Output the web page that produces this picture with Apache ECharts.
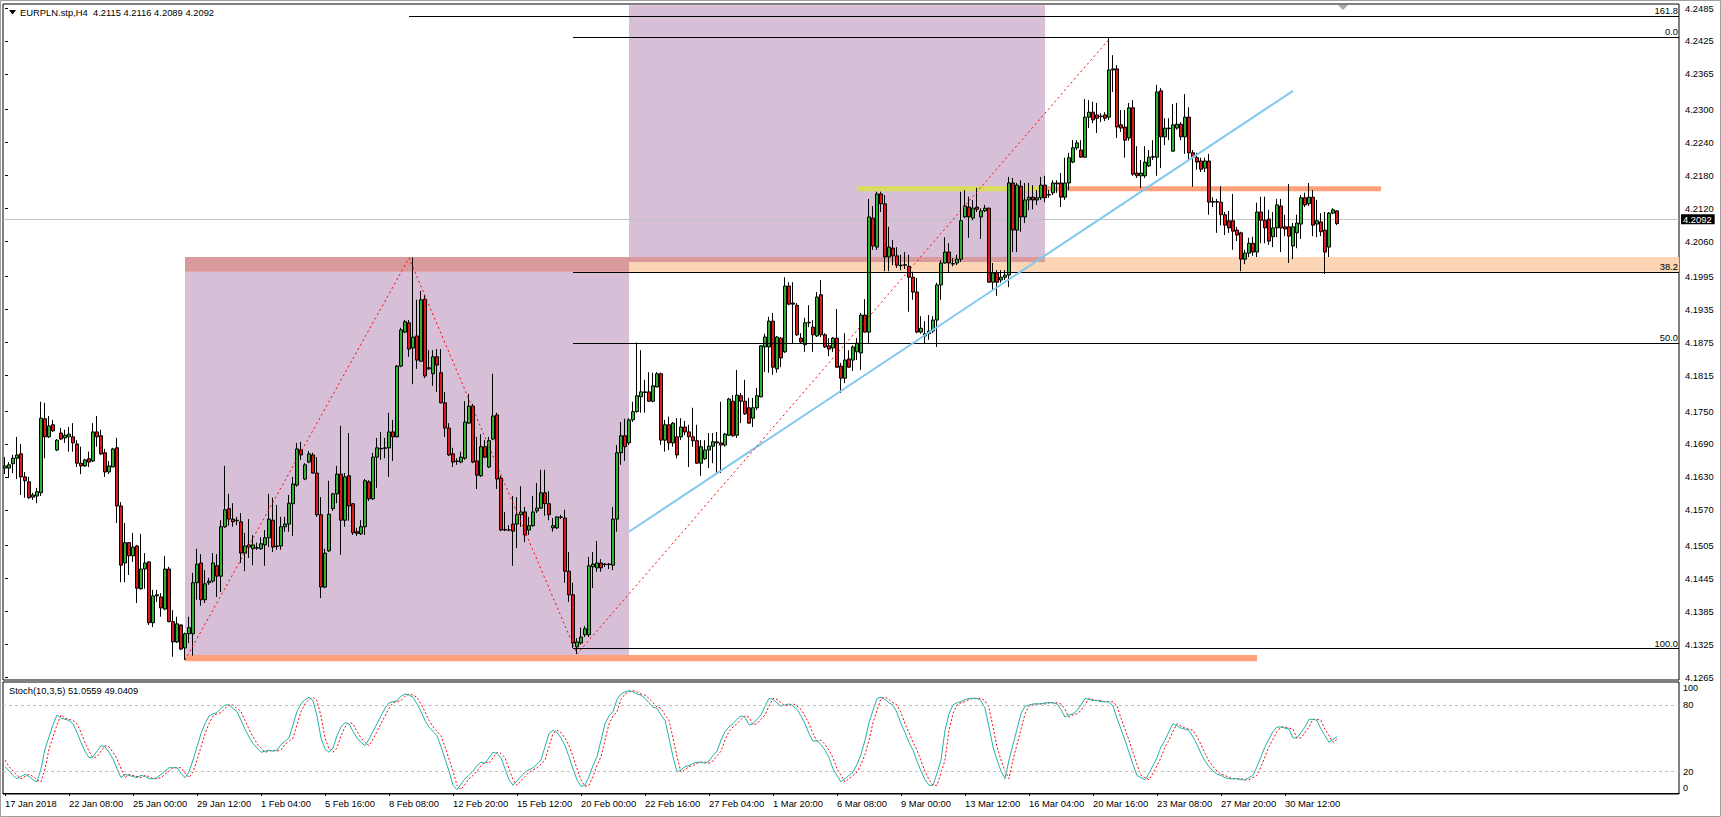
<!DOCTYPE html>
<html><head><meta charset="utf-8">
<script src="https://cdn.jsdelivr.net/npm/echarts@6/dist/echarts.min.js"></script>
<style>html,body{margin:0;padding:0;background:#fff;}#chart{width:1721px;height:817px;}</style>
</head><body><div id="chart"></div>
<script>
const symbolName = 'EURPLN.stp';
const timeframe = 'H4';
// each candle: [open, close, low, high]
const ohlc = [
[4.1646,4.1650,4.1635,4.1666],[4.1646,4.1652,4.1628,4.1657],[4.1654,4.1664,4.1637,4.1670],[4.1664,4.1670,4.1626,4.1703],[4.1672,4.1630,4.1597,4.1690],
[4.1630,4.1623,4.1592,4.1639],[4.1621,4.1592,4.1590,4.1630],[4.1593,4.1597,4.1588,4.1601],[4.1595,4.1603,4.1582,4.1610],[4.1601,4.1737,4.1595,4.1767],
[4.1736,4.1703,4.1664,4.1765],[4.1703,4.1723,4.1701,4.1741],[4.1725,4.1714,4.1712,4.1734],[4.1679,4.1697,4.1677,4.1699],[4.1710,4.1699,4.1697,4.1719],
[4.1701,4.1706,4.1692,4.1716],[4.1703,4.1708,4.1676,4.1721],[4.1703,4.1692,4.1676,4.1728],[4.1690,4.1655,4.1648,4.1697],[4.1655,4.1650,4.1635,4.1685],
[4.1650,4.1661,4.1648,4.1663],[4.1663,4.1657,4.1648,4.1676],[4.1659,4.1712,4.1657,4.1728],[4.1712,4.1703,4.1685,4.1741],[4.1705,4.1672,4.1670,4.1716],
[4.1674,4.1639,4.1630,4.1681],[4.1639,4.1650,4.1635,4.1659],[4.1648,4.1681,4.1648,4.1683],[4.1683,4.1577,4.1546,4.1701],[4.1577,4.1469,4.1438,4.1584],
[4.1473,4.1510,4.1438,4.1546],[4.1510,4.1486,4.1451,4.1511],[4.1486,4.1502,4.1475,4.1528],[4.1504,4.1427,4.1400,4.1506],[4.1426,4.1462,4.1424,4.1526],
[4.1462,4.1473,4.1426,4.1491],[4.1475,4.1364,4.1360,4.1476],[4.1364,4.1413,4.1356,4.1424],[4.1413,4.1415,4.1402,4.1424],[4.1411,4.1391,4.1375,4.1418],
[4.1389,4.1462,4.1387,4.1486],[4.1462,4.1366,4.1365,4.1466],[4.1366,4.1329,4.1302,4.1387],[4.1329,4.1362,4.1327,4.1375],[4.1360,4.1316,4.1314,4.1361],
[4.1318,4.1344,4.1296,4.1346],[4.1344,4.1355,4.1327,4.1375],[4.1344,4.1437,4.1304,4.1455],[4.1437,4.1471,4.1406,4.1499],[4.1473,4.1406,4.1395,4.1489],
[4.1406,4.1435,4.1400,4.1460],[4.1437,4.1440,4.1433,4.1446],[4.1440,4.1473,4.1437,4.1491],[4.1468,4.1449,4.1411,4.1489],[4.1449,4.1539,4.1420,4.1551],
[4.1539,4.1570,4.1537,4.1650],[4.1572,4.1553,4.1541,4.1599],[4.1553,4.1548,4.1539,4.1582],[4.1551,4.1550,4.1542,4.1557],[4.1548,4.1491,4.1473,4.1564],
[4.1491,4.1504,4.1458,4.1528],[4.1502,4.1506,4.1482,4.1553],[4.1499,4.1506,4.1469,4.1524],[4.1500,4.1501,4.1497,4.1510],[4.1499,4.1508,4.1497,4.1520],
[4.1506,4.1519,4.1468,4.1533],[4.1519,4.1553,4.1502,4.1599],[4.1551,4.1502,4.1493,4.1592],[4.1504,4.1503,4.1497,4.1579],[4.1504,4.1539,4.1497,4.1557],
[4.1539,4.1544,4.1530,4.1557],[4.1544,4.1582,4.1530,4.1597],[4.1581,4.1617,4.1522,4.1630],[4.1615,4.1681,4.1612,4.1692],[4.1679,4.1670,4.1661,4.1694],
[4.1626,4.1652,4.1624,4.1655],[4.1657,4.1672,4.1655,4.1677],[4.1670,4.1637,4.1636,4.1674],[4.1637,4.1561,4.1557,4.1666],[4.1561,4.1429,4.1409,4.1593],
[4.1429,4.1491,4.1427,4.1499],[4.1495,4.1562,4.1493,4.1623],[4.1572,4.1599,4.1568,4.1601],[4.1599,4.1635,4.1582,4.1650],[4.1635,4.1551,4.1488,4.1723],
[4.1551,4.1630,4.1539,4.1637],[4.1632,4.1577,4.1550,4.1710],[4.1581,4.1528,4.1524,4.1582],[4.1530,4.1527,4.1522,4.1537],[4.1526,4.1539,4.1524,4.1551],
[4.1539,4.1623,4.1524,4.1626],[4.1621,4.1590,4.1586,4.1624],[4.1590,4.1666,4.1588,4.1674],[4.1666,4.1683,4.1610,4.1701],[4.1681,4.1682,4.1661,4.1712],
[4.1682,4.1683,4.1664,4.1701],[4.1683,4.1712,4.1630,4.1747],[4.1712,4.1703,4.1659,4.1734],[4.1703,4.1832,4.1702,4.1834],[4.1832,4.1898,4.1830,4.1902],
[4.1894,4.1913,4.1892,4.1916],[4.1911,4.1863,4.1849,4.1916],[4.1865,4.1885,4.1799,4.2030],[4.1887,4.1843,4.1827,4.1953],[4.1841,4.1953,4.1840,4.1969],
[4.1954,4.1814,4.1810,4.1962],[4.1829,4.1827,4.1825,4.1861],[4.1818,4.1849,4.1796,4.1861],[4.1849,4.1834,4.1785,4.1863],[4.1820,4.1765,4.1764,4.1863],
[4.1765,4.1719,4.1703,4.1785],[4.1719,4.1670,4.1668,4.1728],[4.1672,4.1657,4.1648,4.1683],[4.1659,4.1658,4.1652,4.1664],[4.1657,4.1666,4.1655,4.1676],
[4.1664,4.1730,4.1661,4.1768],[4.1728,4.1759,4.1727,4.1781],[4.1759,4.1657,4.1655,4.1763],[4.1659,4.1633,4.1608,4.1703],[4.1632,4.1685,4.1630,4.1708],
[4.1685,4.1666,4.1664,4.1697],[4.1648,4.1696,4.1646,4.1703],[4.1699,4.1741,4.1697,4.1818],[4.1743,4.1626,4.1608,4.1747],[4.1628,4.1533,4.1531,4.1632],
[4.1533,4.1534,4.1531,4.1566],[4.1533,4.1533,4.1531,4.1542],[4.1544,4.1531,4.1468,4.1595],[4.1544,4.1561,4.1500,4.1593],[4.1561,4.1566,4.1539,4.1613],
[4.1566,4.1524,4.1511,4.1575],[4.1533,4.1541,4.1524,4.1557],[4.1541,4.1566,4.1539,4.1595],[4.1568,4.1573,4.1564,4.1619],[4.1573,4.1601,4.1572,4.1643],
[4.1601,4.1581,4.1559,4.1643],[4.1581,4.1561,4.1551,4.1604],[4.1537,4.1541,4.1530,4.1555],[4.1537,4.1557,4.1535,4.1558],[4.1557,4.1556,4.1553,4.1561],
[4.1555,4.1458,4.1437,4.1570],[4.1458,4.1415,4.1402,4.1493],[4.1415,4.1327,4.1318,4.1437],[4.1320,4.1329,4.1307,4.1336],[4.1327,4.1338,4.1324,4.1355],
[4.1342,4.1353,4.1338,4.1358],[4.1342,4.1468,4.1338,4.1484],[4.1466,4.1471,4.1427,4.1493],[4.1464,4.1473,4.1457,4.1513],[4.1473,4.1464,4.1457,4.1480],
[4.1471,4.1470,4.1466,4.1473],[4.1470,4.1471,4.1462,4.1473],[4.1469,4.1553,4.1460,4.1575],[4.1553,4.1674,4.1530,4.1688],[4.1674,4.1705,4.1652,4.1730],
[4.1705,4.1685,4.1659,4.1736],[4.1692,4.1734,4.1688,4.1737],[4.1734,4.1749,4.1730,4.1767],[4.1749,4.1778,4.1747,4.1875],[4.1776,4.1785,4.1747,4.1861],
[4.1785,4.1784,4.1747,4.1807],[4.1785,4.1768,4.1767,4.1821],[4.1768,4.1796,4.1766,4.1820],[4.1794,4.1818,4.1793,4.1821],[4.1818,4.1697,4.1688,4.1820],
[4.1697,4.1725,4.1676,4.1734],[4.1725,4.1692,4.1679,4.1740],[4.1692,4.1728,4.1685,4.1730],[4.1703,4.1670,4.1664,4.1737],[4.1703,4.1721,4.1697,4.1737],
[4.1721,4.1712,4.1706,4.1732],[4.1712,4.1703,4.1648,4.1725],[4.1703,4.1696,4.1685,4.1756],[4.1696,4.1655,4.1654,4.1725],[4.1655,4.1685,4.1632,4.1697],
[4.1663,4.1679,4.1661,4.1697],[4.1679,4.1686,4.1646,4.1710],[4.1686,4.1694,4.1655,4.1710],[4.1694,4.1692,4.1637,4.1712],[4.1692,4.1688,4.1637,4.1767],
[4.1688,4.1708,4.1685,4.1710],[4.1706,4.1772,4.1705,4.1774],[4.1768,4.1705,4.1703,4.1779],[4.1706,4.1779,4.1701,4.1825],[4.1778,4.1768,4.1728,4.1783],
[4.1768,4.1745,4.1743,4.1807],[4.1756,4.1728,4.1727,4.1774],[4.1737,4.1756,4.1721,4.1774],[4.1756,4.1778,4.1752,4.1792],[4.1776,4.1869,4.1775,4.1870],
[4.1867,4.1885,4.1821,4.1891],[4.1867,4.1914,4.1820,4.1922],[4.1914,4.1830,4.1816,4.1929],[4.1827,4.1885,4.1820,4.1887],[4.1883,4.1847,4.1830,4.1885],
[4.1858,4.1978,4.1856,4.1994],[4.1978,4.1945,4.1943,4.1985],[4.1947,4.1945,4.1874,4.1985],[4.1943,4.1889,4.1887,4.1947],[4.1883,4.1876,4.1874,4.1892],
[4.1871,4.1911,4.1858,4.1920],[4.1911,4.1912,4.1903,4.1943],[4.1903,4.1889,4.1858,4.1916],[4.1887,4.1958,4.1885,4.1967],[4.1962,4.1889,4.1885,4.1989],
[4.1889,4.1867,4.1865,4.1892],[4.1869,4.1863,4.1850,4.1883],[4.1865,4.1883,4.1858,4.1885],[4.1883,4.1830,4.1829,4.1936],[4.1832,4.1810,4.1783,4.1838],
[4.1810,4.1843,4.1801,4.1892],[4.1845,4.1830,4.1829,4.1861],[4.1843,4.1867,4.1823,4.1870],[4.1858,4.1874,4.1843,4.1883],[4.1856,4.1925,4.1825,4.1929],
[4.1925,4.1894,4.1893,4.1954],[4.1894,4.2104,4.1874,4.2137],[4.2102,4.2051,4.2044,4.2124],[4.2049,4.2146,4.2044,4.2150],[4.2146,4.2128,4.2113,4.2150],
[4.2128,4.2031,4.2005,4.2144],[4.2031,4.2049,4.2005,4.2086],[4.2047,4.2033,4.2016,4.2062],[4.2033,4.2016,4.2011,4.2049],[4.2016,4.2015,4.2007,4.2035],
[4.2016,4.2017,4.2009,4.2040],[4.2014,4.1994,4.1931,4.2035],[4.1994,4.1967,4.1953,4.2004],[4.1967,4.1894,4.1892,4.1993],[4.1894,4.1901,4.1891,4.1923],
[4.1887,4.1891,4.1874,4.1914],[4.1891,4.1896,4.1880,4.1925],[4.1896,4.1916,4.1892,4.1923],[4.1916,4.1980,4.1867,4.1984],[4.1980,4.2020,4.1953,4.2025],
[4.2020,4.2040,4.2019,4.2067],[4.2040,4.2020,4.2002,4.2056],[4.2019,4.2018,4.2014,4.2029],[4.2020,4.2027,4.2016,4.2035],[4.2027,4.2097,4.2022,4.2150],
[4.2104,4.2124,4.2102,4.2153],[4.2122,4.2104,4.2066,4.2141],[4.2102,4.2120,4.2098,4.2135],[4.2122,4.2118,4.2113,4.2157],[4.2104,4.2115,4.2064,4.2120],
[4.2115,4.2120,4.2113,4.2126],[4.2120,4.1985,4.1984,4.2121],[4.1985,4.2002,4.1971,4.2020],[4.2002,4.1985,4.1960,4.2007],[4.1989,4.1994,4.1984,4.2007],
[4.1994,4.1998,4.1989,4.2007],[4.1998,4.2166,4.1976,4.2177],[4.2166,4.2080,4.2040,4.2175],[4.2080,4.2162,4.2040,4.2166],[4.2160,4.2104,4.2077,4.2171],
[4.2104,4.2135,4.2093,4.2166],[4.2135,4.2140,4.2116,4.2166],[4.2140,4.2135,4.2118,4.2162],[4.2135,4.2139,4.2126,4.2153],[4.2139,4.2162,4.2135,4.2177],
[4.2162,4.2139,4.2131,4.2179],[4.2144,4.2145,4.2139,4.2153],[4.2148,4.2166,4.2144,4.2171],[4.2166,4.2164,4.2148,4.2171],[4.2166,4.2140,4.2122,4.2184],
[4.2140,4.2166,4.2135,4.2212],[4.2166,4.2212,4.2153,4.2221],[4.2204,4.2230,4.2202,4.2244],[4.2230,4.2239,4.2226,4.2244],[4.2226,4.2213,4.2212,4.2244],
[4.2213,4.2286,4.2212,4.2319],[4.2286,4.2295,4.2266,4.2317],[4.2295,4.2281,4.2275,4.2314],[4.2290,4.2284,4.2257,4.2312],[4.2288,4.2287,4.2277,4.2293],
[4.2290,4.2284,4.2279,4.2295],[4.2286,4.2372,4.2281,4.2432],[4.2372,4.2374,4.2332,4.2399],[4.2374,4.2268,4.2248,4.2381],[4.2272,4.2266,4.2259,4.2299],
[4.2268,4.2244,4.2212,4.2299],[4.2248,4.2303,4.2243,4.2312],[4.2303,4.2182,4.2179,4.2317],[4.2184,4.2179,4.2175,4.2233],[4.2179,4.2184,4.2157,4.2208],
[4.2179,4.2204,4.2175,4.2233],[4.2197,4.2213,4.2195,4.2226],[4.2213,4.2214,4.2208,4.2244],[4.2213,4.2332,4.2179,4.2345],[4.2334,4.2250,4.2193,4.2339],
[4.2250,4.2266,4.2235,4.2284],[4.2266,4.2265,4.2244,4.2284],[4.2224,4.2272,4.2223,4.2310],[4.2266,4.2273,4.2263,4.2312],[4.2273,4.2250,4.2244,4.2277],
[4.2250,4.2286,4.2219,4.2328],[4.2286,4.2221,4.2208,4.2304],[4.2221,4.2213,4.2159,4.2226],[4.2212,4.2204,4.2190,4.2221],[4.2206,4.2191,4.2186,4.2212],
[4.2193,4.2206,4.2186,4.2212],[4.2206,4.2131,4.2108,4.2219],[4.2131,4.2132,4.2122,4.2140],[4.2132,4.2131,4.2075,4.2137],[4.2131,4.2108,4.2089,4.2160],
[4.2108,4.2089,4.2071,4.2113],[4.2097,4.2084,4.2075,4.2115],[4.2097,4.2078,4.2044,4.2146],[4.2080,4.2071,4.2060,4.2086],[4.2075,4.2027,4.2005,4.2077],
[4.2027,4.2038,4.2018,4.2044],[4.2038,4.2056,4.2031,4.2066],[4.2056,4.2040,4.2033,4.2068],[4.2040,4.2113,4.2031,4.2130],[4.2113,4.2098,4.2056,4.2141],
[4.2098,4.2084,4.2056,4.2141],[4.2100,4.2060,4.2053,4.2117],[4.2068,4.2084,4.2049,4.2113],[4.2084,4.2126,4.2067,4.2137],[4.2124,4.2084,4.2040,4.2137],
[4.2086,4.2082,4.2069,4.2108],[4.2086,4.2069,4.2020,4.2164],[4.2051,4.2086,4.2027,4.2093],[4.2075,4.2093,4.2047,4.2108],[4.2091,4.2139,4.2064,4.2144],
[4.2139,4.2126,4.2122,4.2148],[4.2128,4.2140,4.2124,4.2166],[4.2140,4.2089,4.2069,4.2153],[4.2091,4.2097,4.2067,4.2135],[4.2095,4.2077,4.2069,4.2111],
[4.2080,4.2040,4.2000,4.2113],[4.2049,4.2111,4.2031,4.2113],[4.2111,4.2117,4.2109,4.2120],[4.2115,4.2092,4.2089,4.2116]
];
const stochParams = '10,3,5';
const stochMain = [
24,20,16,13,15,17,15,12,10,22, 40,51,62,71,68,67,66,63,55,46, 38,32,33,38,43,42,37,31,22,14, 17,16,15,14,16,15,13,13,14,17,
20,23,23,23,18,14,19,30,42,54, 63,70,72,73,77,80,80,77,74,66, 58,51,45,41,37,38,39,38,39,44, 47,50,62,74,81,85,87,84,70,50,
40,37,41,52,60,64,63,56,50,46, 43,49,56,63,70,77,82,83,84,88, 90,89,87,81,74,66,60,56,52,42, 31,20,7,3,8,13,16,20,25,28,
27,32,37,36,32,22,12,7,11,15, 19,21,23,26,30,42,54,57,55,50, 43,33,22,12,6,7,15,25,33,48, 63,70,74,85,90,92,93,92,90,89,
86,82,78,77,71,66,50,33,19,21, 24,25,27,28,28,27,29,34,38,48, 56,60,63,67,70,69,62,63,67,71, 79,86,85,82,79,80,81,79,76,70,
63,54,47,48,44,39,32,22,16,10, 13,16,19,26,35,48,64,75,86,87, 85,82,80,73,63,55,46,39,29,20, 12,7,7,18,30,57,72,80,82,83,
85,86,86,86,84,77,60,42,30,20, 13,30,44,58,72,79,80,81,81,81, 82,82,82,81,76,69,71,72,75,80, 86,85,84,84,83,83,83,79,68,58,
48,37,26,16,14,12,18,25,32,42, 48,56,63,61,59,58,57,51,44,36, 29,24,20,17,16,14,13,13,13,12, 12,14,16,24,33,42,49,56,60,60,
59,58,50,50,55,60,67,67,66,58, 52,46,49,51.0559
];
const stochSignal = [
30,24,20,16,13,15,17,15,12,10, 22,40,51,62,71,68,67,66,63,55, 46,38,32,33,38,43,42,37,31,22, 14,17,16,15,14,16,15,13,13,14,
17,20,23,23,23,18,14,19,30,42, 54,63,70,72,73,77,80,80,77,74, 66,58,51,45,41,37,38,39,38,39, 44,47,50,62,74,81,85,87,84,70,
50,40,37,41,52,60,64,63,56,50, 46,43,49,56,63,70,77,82,83,84, 88,90,89,87,81,74,66,60,56,52, 42,31,20,7,3,8,13,16,20,25,
28,27,32,37,36,32,22,12,7,11, 15,19,21,23,26,30,42,54,57,55, 50,43,33,22,12,6,7,15,25,33, 48,63,70,74,85,90,92,93,92,90,
89,86,82,78,77,71,66,50,33,19, 21,24,25,27,28,28,27,29,34,38, 48,56,60,63,67,70,69,62,63,67, 71,79,86,85,82,79,80,81,79,76,
70,63,54,47,48,44,39,32,22,16, 10,13,16,19,26,35,48,64,75,86, 87,85,82,80,73,63,55,46,39,29, 20,12,7,7,18,30,57,72,80,82,
83,85,86,86,86,84,77,60,42,30, 20,13,30,44,58,72,79,80,81,81, 81,82,82,82,81,76,69,71,72,75, 80,86,85,84,84,83,83,83,79,68,
58,48,37,26,16,14,12,18,25,32, 42,48,56,63,61,59,58,57,51,44, 36,29,24,20,17,16,14,13,13,13, 12,12,14,16,24,33,42,49,56,60,
60,59,58,50,50,55,60,67,67,66, 58,52,46,49.0409
];
const stochLevels = [80, 20];
const priceTicks = [4.1265,4.1325,4.1385,4.1445,4.1505,4.1570,4.1630,4.1690,4.1750,4.1815,4.1875,4.1935,4.1995,4.2060,4.2120,4.2180,4.2240,4.2300,4.2365,4.2425,4.2485];
const stochInnerTicks = [20, 80];
const stochEdgeTicks = [100, 0];
const xTickLabels = ['17 Jan 2018','22 Jan 08:00','25 Jan 00:00','29 Jan 12:00','1 Feb 04:00','5 Feb 16:00','8 Feb 08:00','12 Feb 20:00','15 Feb 12:00','20 Feb 00:00','22 Feb 16:00','27 Feb 04:00','1 Mar 20:00','6 Mar 08:00','9 Mar 00:00','13 Mar 12:00','16 Mar 04:00','20 Mar 16:00','23 Mar 08:00','27 Mar 20:00','30 Mar 12:00'];
const barsPerLabel = 16;
const totalSlots = 419;
const bidPrice = 4.2092;
const fibLevels = [
  {label:'161.8', price:4.2470, from:101},
  {label:'0.0', price:4.2432, from:142},
  {label:'38.2', price:4.2004, from:142},
  {label:'50.0', price:4.1874, from:142},
  {label:'100.0', price:4.1317, from:142}
];
const trendLine = [[156, 4.1530], [322, 4.2334]];
const zigzag = [[45, 4.1296], [101, 4.2029], [143, 4.1307], [276, 4.2428]];
const zones = [
  {kind:'purple', from:45, to:156, low:4.1305, high:4.2031},
  {kind:'purple', from:156, to:260, low:4.2022, high:4.2490},
  {kind:'peach', from:45, to:418.5, low:4.2004, high:4.2031},
  {kind:'overlap', from:45, to:156, low:4.2004, high:4.2031},
  {kind:'overlap', from:156, to:260, low:4.2022, high:4.2031},
  {kind:'salmon', from:45, to:313, low:4.1294, high:4.1305},
  {kind:'lime', from:213, to:260, low:4.2151, high:4.2160},
  {kind:'salmon', from:260, to:344, low:4.2151, high:4.2160}
];

const zoneColors = {purple:'#D8BFD8', peach:'#FCD5B5', overlap:'#D99A9E', salmon:'#FFA07A', lime:'#D9DC5D'};
const FONT = 'Liberation Sans, Arial, sans-serif';
const FS = 9.4;
const slots = Array.from({length: totalSlots}, (_, i) => String(i));
const last = ohlc[ohlc.length - 1];
const f4 = v => v.toFixed(4);
const headerText = symbolName + ',' + timeframe + '  ' + f4(last[0]) + ' ' + f4(last[3]) + ' ' + f4(last[2]) + ' ' + f4(last[1]);
const stochTitle = 'Stoch(' + stochParams + ') ' + stochMain[stochMain.length-1].toFixed(4) + ' ' + stochSignal[stochSignal.length-1].toFixed(4);
const showLabelAt = (idx) => idx % barsPerLabel === 0 && idx / barsPerLabel < xTickLabels.length;

const chart = echarts.init(document.getElementById('chart'), null, {renderer: 'svg'});
chart.setOption({
  animation: false,
  backgroundColor: '#ffffff',
  textStyle: {fontFamily: FONT, fontSize: FS, color: '#000'},
  grid: [
    {left: 3, top: 4, width: 1676, height: 676, show: true, borderColor: '#000', borderWidth: 1, backgroundColor: 'transparent'},
    {left: 3, top: 682, width: 1676, height: 112, show: true, borderColor: '#000', borderWidth: 1, backgroundColor: 'transparent'}
  ],
  xAxis: [
    {type: 'category', gridIndex: 0, data: slots, axisLine: {show: false}, axisTick: {show: false}, axisLabel: {show: false}, splitLine: {show: false}},
    {type: 'category', gridIndex: 1, data: slots,
      axisLine: {show: true, lineStyle: {color: '#000', width: 1}},
      axisTick: {show: true, interval: showLabelAt, alignWithLabel: true, length: 3, lineStyle: {color: '#000'}},
      axisLabel: {show: true, interval: showLabelAt, formatter: (v, idx) => xTickLabels[idx / barsPerLabel] || '', align: 'left', margin: 5, color: '#000', fontSize: FS, fontFamily: FONT},
      splitLine: {show: false}},
    {type: 'value', gridIndex: 0, min: -0.5, max: totalSlots - 0.5, show: false}
  ],
  yAxis: [
    {type: 'value', gridIndex: 0, position: 'right', min: 4.12596, max: 4.24923,
      axisLine: {show: false}, splitLine: {show: false},
      axisTick: {show: true, customValues: priceTicks, length: 3, lineStyle: {color: '#000'}},
      axisLabel: {show: true, customValues: priceTicks, showMinLabel: true, showMaxLabel: true, formatter: v => v.toFixed(4), margin: 6, color: '#000', fontSize: FS, fontFamily: FONT}},
    {type: 'value', gridIndex: 1, position: 'right', min: -0.9, max: 100.9,
      axisLine: {show: false}, splitLine: {show: false},
      axisTick: {show: false},
      axisLabel: {show: true, customValues: stochInnerTicks, showMinLabel: true, showMaxLabel: true, margin: 4, color: '#000', fontSize: FS, fontFamily: FONT,
        formatter: v => String(Math.round(v))}}
  ],
  series: [
    {type: 'custom', name: 'zones', xAxisIndex: 2, yAxisIndex: 0, z: 1, silent: true, clip: true,
      data: zones.map(zn => [zn.from, zn.to, zn.low, zn.high]),
      renderItem: (params, api) => {
        const zn = zones[params.dataIndex];
        const a = api.coord([api.value(0), api.value(3)]);
        const b = api.coord([api.value(1), api.value(2)]);
        return {type: 'rect', shape: {x: a[0], y: a[1], width: b[0] - a[0], height: b[1] - a[1]}, style: {fill: zoneColors[zn.kind]}};
      }},
    {type: 'candlestick', name: 'price', xAxisIndex: 0, yAxisIndex: 0, z: 3, barWidth: 3, silent: true,
      data: ohlc,
      itemStyle: {color: '#2FB02F', color0: '#E01818', borderColor: '#000', borderColor0: '#000', borderWidth: 1},
      markLine: {silent: true, symbol: ['none', 'none'], z: 2, animation: false,
        lineStyle: {color: '#C0C0C0', width: 1, type: 'solid'},
        label: {position: 'end', formatter: f4(bidPrice), backgroundColor: '#000', color: '#fff', padding: [1, 3, 0, 2], fontSize: FS, fontFamily: FONT, distance: 2},
        data: [{yAxis: bidPrice}]}},
    {type: 'line', name: 'fib', xAxisIndex: 2, yAxisIndex: 0, z: 4, data: [], silent: true,
      markLine: {silent: true, symbol: ['none', 'none'], animation: false,
        lineStyle: {color: '#000', width: 1, type: 'solid'},
        label: {position: 'insideEndTop', formatter: '{b}', color: '#000', fontSize: FS, fontFamily: FONT, distance: 1},
        data: fibLevels.map(fl => [{name: fl.label, coord: [fl.from, fl.price]}, {coord: [totalSlots - 0.5, fl.price]}])}},
    {type: 'line', name: 'trend', xAxisIndex: 2, yAxisIndex: 0, z: 5, data: trendLine, showSymbol: false, symbol: 'none', silent: true,
      lineStyle: {color: '#80C8EE', width: 2}},
    {type: 'line', name: 'zigzag', xAxisIndex: 2, yAxisIndex: 0, z: 5, data: zigzag, showSymbol: false, symbol: 'none', silent: true,
      lineStyle: {color: '#FF0000', width: 1, type: [2, 3]}},
    {type: 'line', name: 'signal', xAxisIndex: 1, yAxisIndex: 1, z: 3, data: stochSignal, showSymbol: false, symbol: 'none', silent: true,
      lineStyle: {color: '#FF0000', width: 1, type: [2, 2]}},
    {type: 'line', name: 'main', xAxisIndex: 1, yAxisIndex: 1, z: 4, data: stochMain, showSymbol: false, symbol: 'none', silent: true,
      lineStyle: {color: '#20B2AA', width: 1},
      markLine: {silent: true, symbol: ['none', 'none'], animation: false, label: {show: false},
        lineStyle: {color: '#C0C0C0', width: 1, type: [3, 3]},
        data: stochLevels.map(v => ({yAxis: v}))}}
  ]
});

// stochastic edge labels (100 / 0) sit slightly inside the panel, as in the terminal
const grid1 = chart.getModel().getComponent('grid', 1).coordinateSystem.getRect();
const edgeLabels = stochEdgeTicks.map(v => {
  const y = chart.convertToPixel({yAxisIndex: 1}, v);
  const inward = v === 100 ? 5 : -5;
  return {type: 'text', silent: true, x: grid1.x + grid1.width + 4, y: y + inward,
    style: {text: String(v), fontSize: 9, fontFamily: FONT, fill: '#000', verticalAlign: 'middle'}, z: 100};
});
chart.setOption({
  graphic: [
    {type: 'rect', silent: true, shape: {x: 0.5, y: 0.5, width: 1720, height: 816}, style: {fill: 'none', stroke: '#A0A0A0', lineWidth: 1}, z: 100},
    {type: 'polygon', silent: true, shape: {points: [[9, 10], [16, 10], [12.5, 14.5]]}, style: {fill: '#000'}, z: 100},
    {type: 'text', silent: true, x: 20, y: 12.7, style: {text: headerText, fontSize: FS, fontFamily: FONT, fill: '#000', verticalAlign: 'middle'}, z: 100},
    {type: 'text', silent: true, x: 9, y: 690.7, style: {text: stochTitle, fontSize: FS, fontFamily: FONT, fill: '#000', verticalAlign: 'middle'}, z: 100},
    {type: 'polygon', silent: true, shape: {points: [[1338, 5], [1348, 5], [1343, 10]]}, style: {fill: '#A8A8A8'}, z: 100}
  ].concat(edgeLabels)
});
</script>
</body></html>
